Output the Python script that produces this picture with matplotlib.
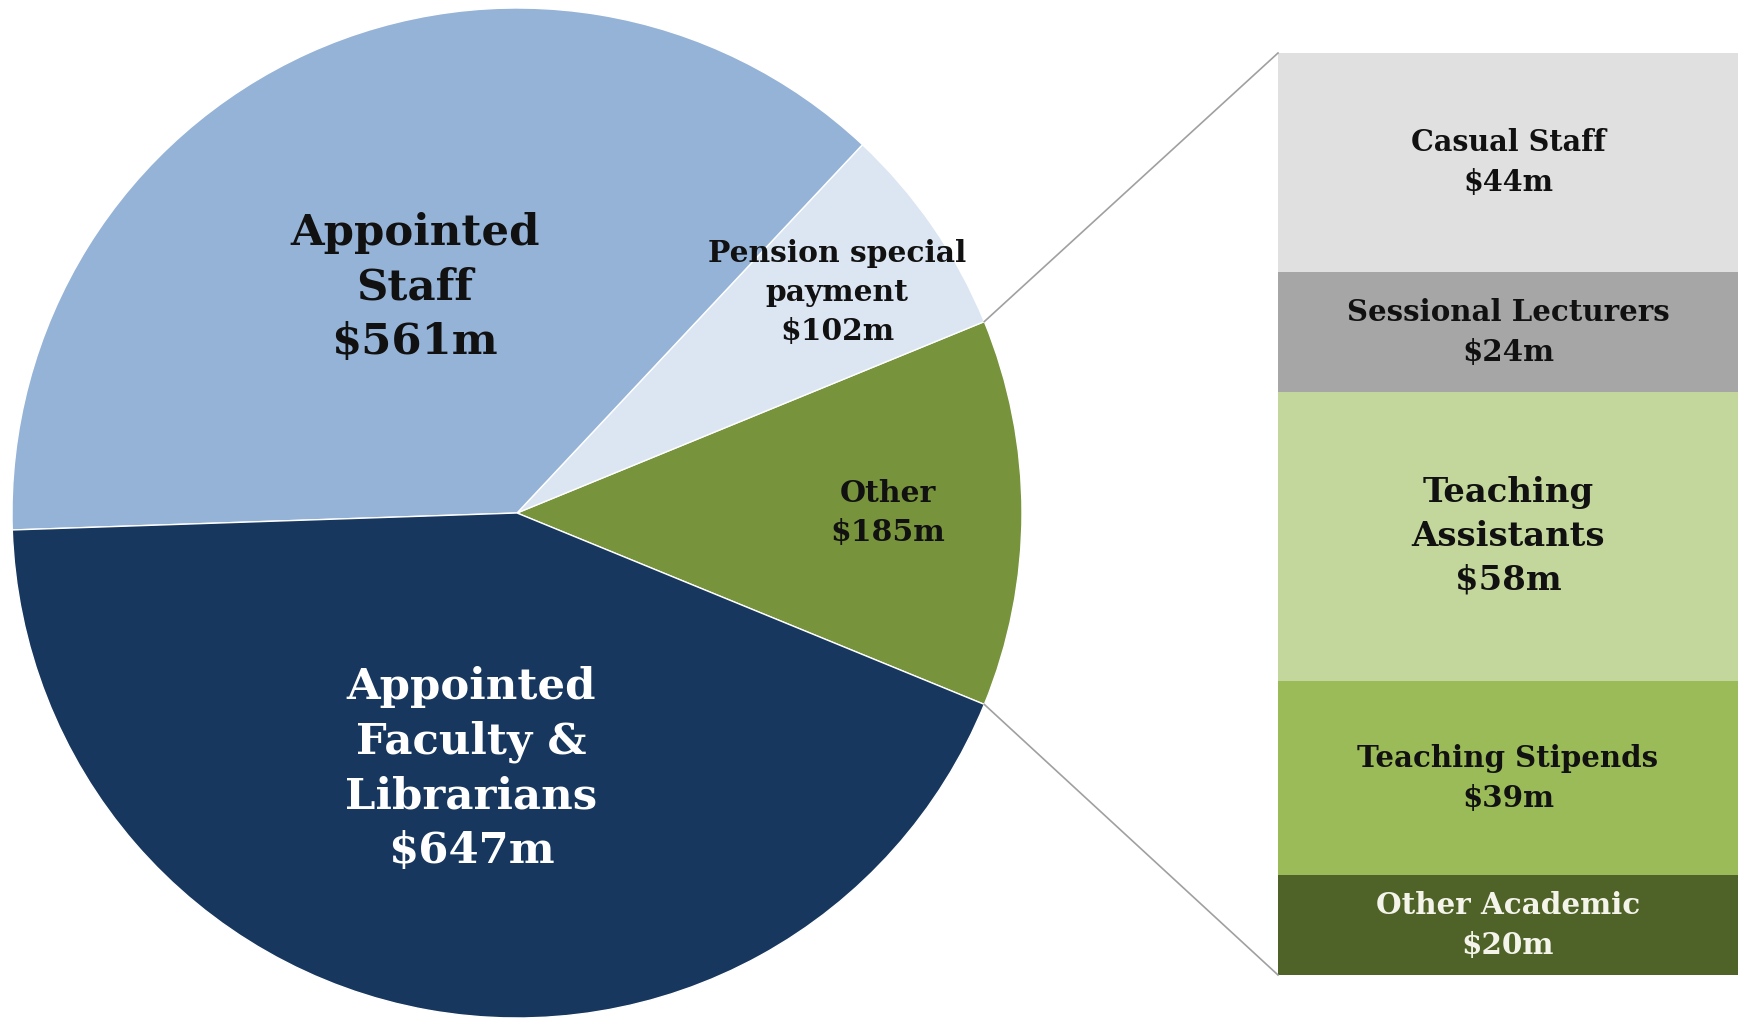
import numpy as np
import matplotlib
matplotlib.use("Agg")
import matplotlib.pyplot as plt

# pie data (counter-clockwise from the right)
pie_labels = ["Other", "Pension special\npayment", "Appointed\nStaff", "Appointed\nFaculty &\nLibrarians"]
pie_values = [185, 102, 561, 647]
pie_colors = ["#77933C", "#DCE6F2", "#95B3D7", "#17375E"]

# breakdown of "Other" (top to bottom)
bar_labels = ["Casual Staff", "Sessional Lecturers", "Teaching\nAssistants", "Teaching Stipends", "Other Academic"]
bar_values = [44, 24, 58, 39, 20]
bar_colors = ["#E0E0E0", "#A6A6A6", "#C3D69B", "#9BBB59", "#4F6228"]

W, H = 1742, 1021
fig = plt.figure(figsize=(W / 100, H / 100), dpi=100)
ax = fig.add_axes([0, 0, 1, 1])

cx, cy, r = 517, H - 513, 505
start = -pie_values[0] / sum(pie_values) * 360 / 2
wedges, _ = ax.pie(pie_values, colors=pie_colors, startangle=start, center=(cx, cy),
                   radius=r, counterclock=True,
                   wedgeprops=dict(edgecolor="white", linewidth=1))

# pie labels
pie_font = [21.5, 21.4, 31.2, 31.2]
pie_dist = [0.735, 0.77, 0.49, 0.515]
pie_spacing = [1.42, 1.42, 1.38, 1.38]
pie_text_col = ["#111111", "#111111", "#111111", "white"]
for w, lab, v, fs, d, ls, col in zip(wedges, pie_labels, pie_values, pie_font,
                                     pie_dist, pie_spacing, pie_text_col):
    mid = np.deg2rad((w.theta1 + w.theta2) / 2)
    ax.text(cx + d * r * np.cos(mid), cy + d * r * np.sin(mid), f"{lab}\n${v}m",
            ha="center", va="center", fontsize=fs, fontweight="bold",
            family="DejaVu Serif", color=col, linespacing=ls)

# stacked bar
bx0, bx1 = 1278, 1738
btop, bbot = H - 53, H - 975
scale = (btop - bbot) / sum(bar_values)
heights = np.array(bar_values) * scale
bottoms = btop - np.cumsum(heights)
ax.bar([(bx0 + bx1) / 2] * len(bar_values), heights, bottom=bottoms, width=bx1 - bx0,
       color=bar_colors, edgecolor="none")

bar_font = [20.6, 21.1, 24.4, 21.1, 21.2]
bar_spacing = [1.48, 1.48, 1.42, 1.48, 1.48]
bar_text_col = ["#111111", "#111111", "#111111", "#111111", "#F4F4EA"]
for lab, v, b, h, fs, ls, col in zip(bar_labels, bar_values, bottoms, heights,
                                     bar_font, bar_spacing, bar_text_col):
    ax.text((bx0 + bx1) / 2, b + h / 2, f"{lab}\n${v}m", ha="center", va="center",
            fontsize=fs, fontweight="bold", family="DejaVu Serif", color=col,
            linespacing=ls)

# connector lines from the "Other" wedge to the bar
a = np.deg2rad(wedges[0].theta2)
ax.plot([cx + r * np.cos(a), bx0], [cy + r * np.sin(a), btop], color="#A0A0A0", lw=1.2)
a = np.deg2rad(wedges[0].theta1)
ax.plot([cx + r * np.cos(a), bx0], [cy + r * np.sin(a), bbot], color="#A0A0A0", lw=1.2)

ax.set_xlim(0, W)
ax.set_ylim(0, H)
ax.set_aspect("equal")
ax.axis("off")
fig.savefig("out.png", dpi=100, facecolor="white")
